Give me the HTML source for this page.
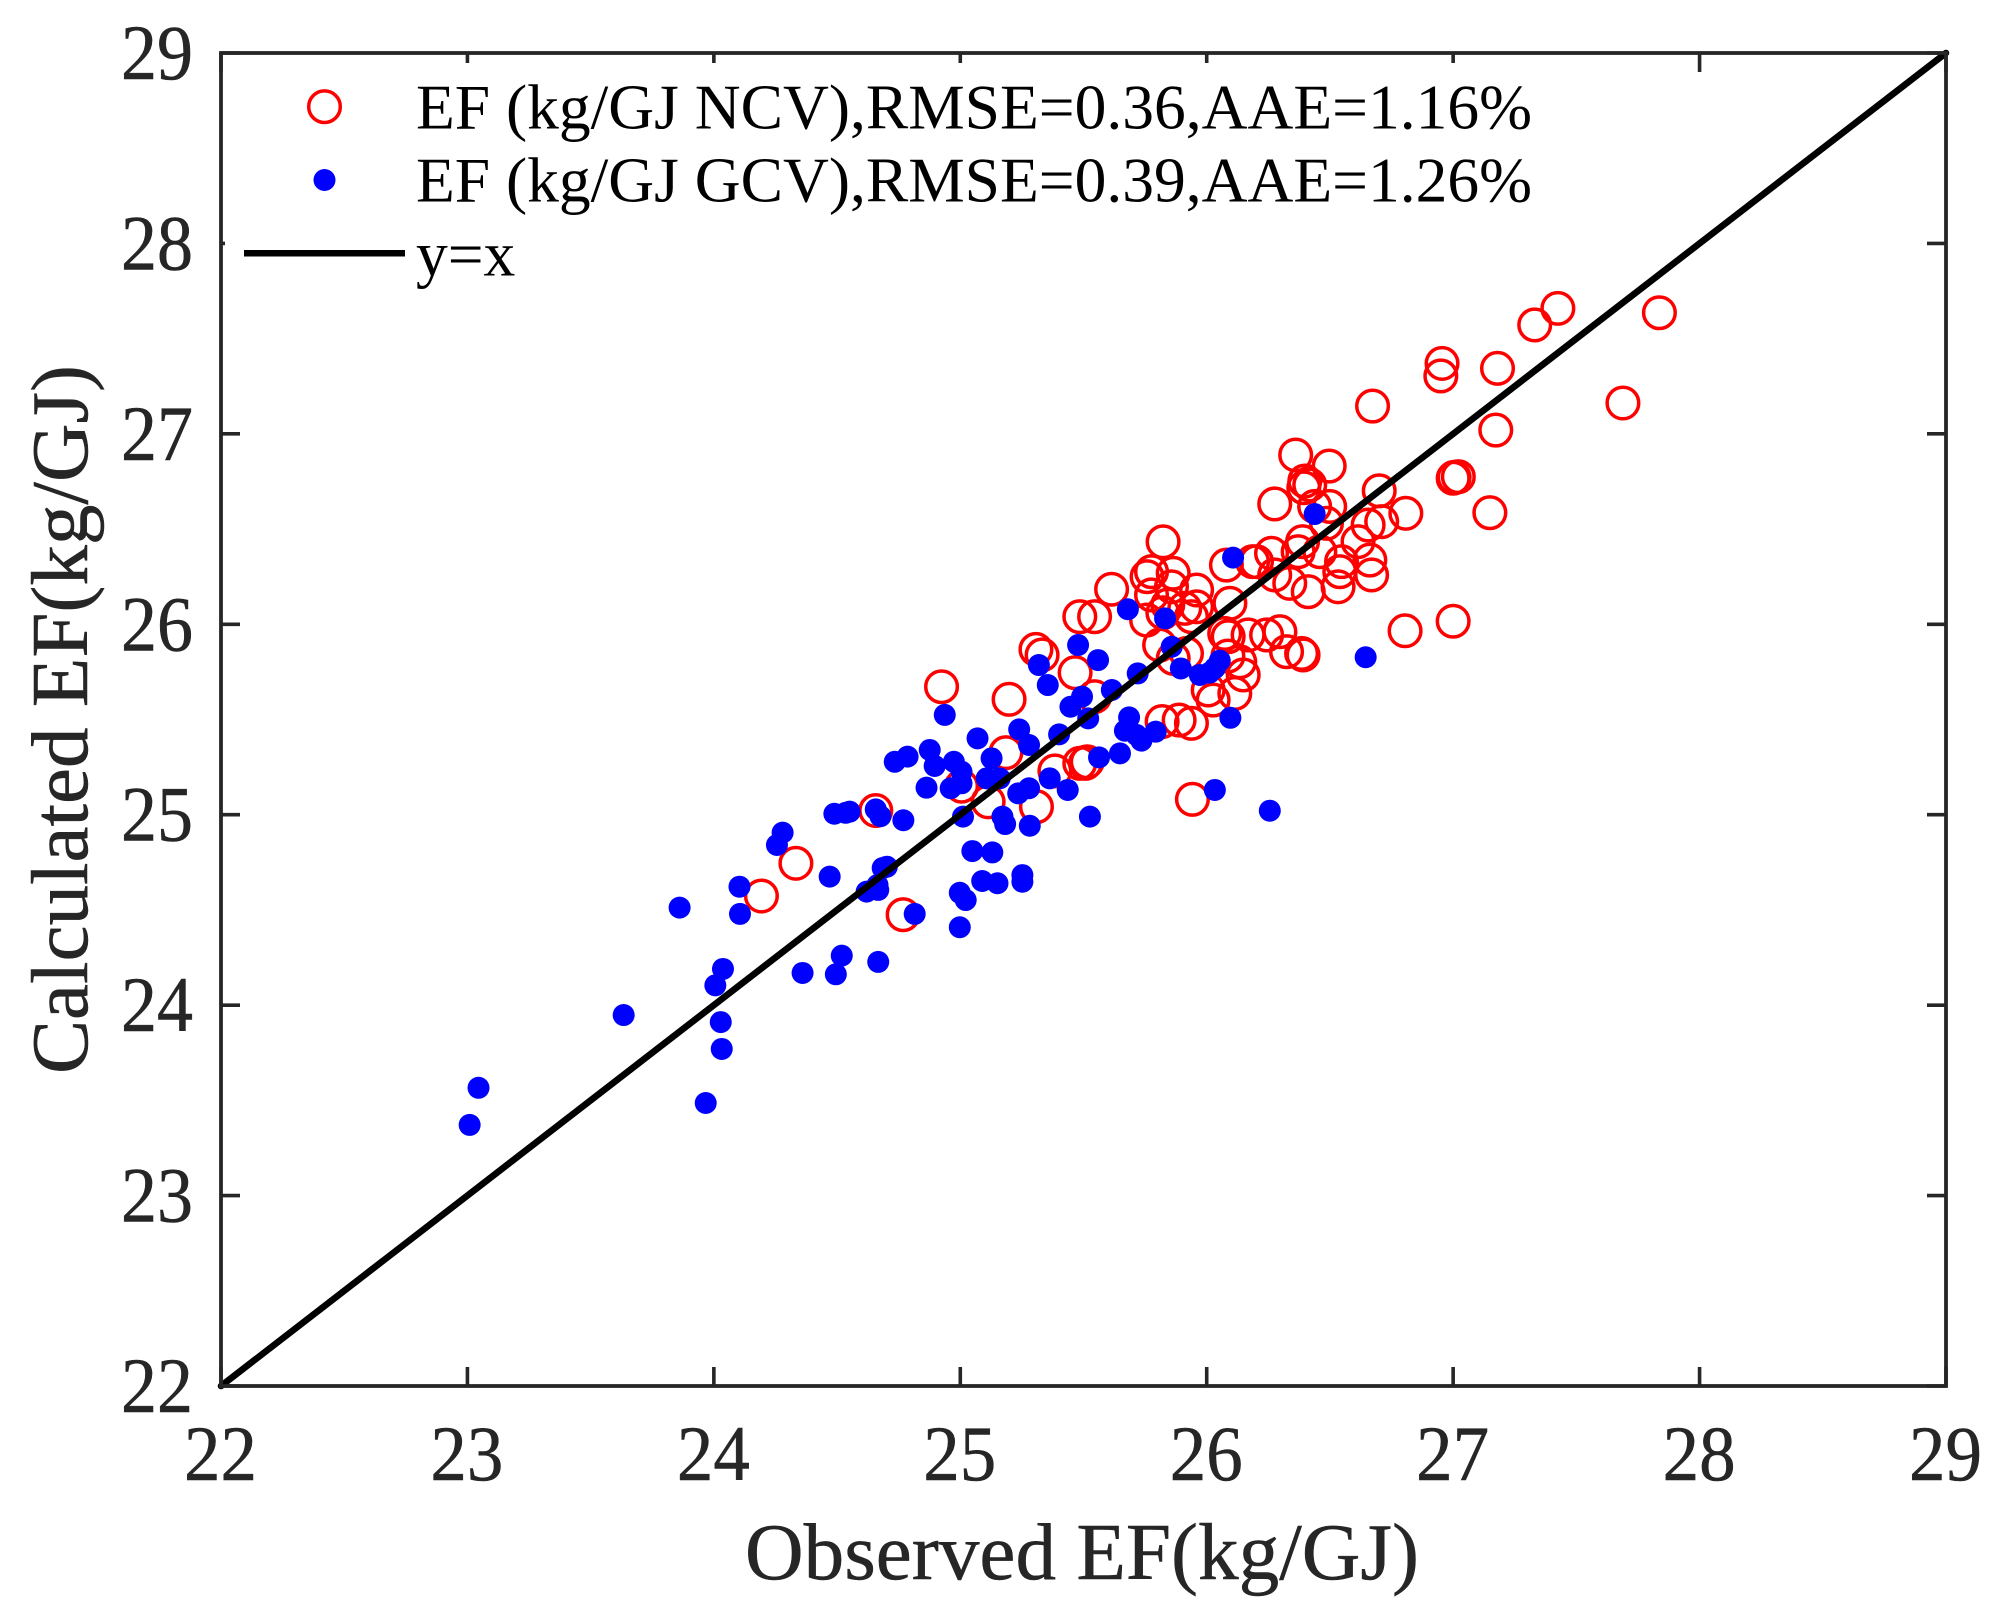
<!DOCTYPE html>
<html lang="en">
<head>
<meta charset="utf-8">
<title>Calculated vs observed EF</title>
<style>
html,body{margin:0;padding:0;background:#fff;}
svg{display:block;}
text{font-family:"Liberation Serif",serif;}
</style>
</head>
<body>
<svg id="chart" xmlns="http://www.w3.org/2000/svg" width="1998" height="1615" viewBox="0 0 1998 1615">
  <rect x="0" y="0" width="1998" height="1615" fill="#fff"/>
  <g id="ticks"></g>
  <g id="tick-labels"></g>
  <g id="series-ncv"></g>
  <g id="series-gcv"></g>
  <line id="identity-line" stroke="#000" stroke-width="6.6" stroke-linecap="round"/>
  <rect x="221" y="53" width="1725" height="1333" fill="none" stroke="#262626" stroke-width="3.8"/>
  <g>
    <rect x="225" y="63" width="1320" height="227" fill="#fff"/>
    <circle cx="324.5" cy="106.7" r="15.8" fill="none" stroke="#ff0000" stroke-width="3.5"/>
    <text x="416" y="128.3" font-size="63.5" fill="#000" textLength="1116" lengthAdjust="spacingAndGlyphs">EF (kg/GJ NCV),RMSE=0.36,AAE=1.16%</text>
    <circle cx="324.5" cy="180" r="11" fill="#0000ff"/>
    <text x="416" y="201.7" font-size="63.5" fill="#000" textLength="1116" lengthAdjust="spacingAndGlyphs">EF (kg/GJ GCV),RMSE=0.39,AAE=1.26%</text>
    <line x1="244" y1="253.3" x2="405" y2="253.3" stroke="#000" stroke-width="6.5"/>
    <text x="416" y="275.5" font-size="63.5" fill="#000">y=x</text>
  </g>
  <text x="745" y="1579" font-size="81" fill="#262626" stroke="#262626" stroke-width="0.5" textLength="674" lengthAdjust="spacingAndGlyphs">Observed EF(kg/GJ)</text>
  <text transform="translate(87,1074) rotate(-90)" x="0" y="0" font-size="81" fill="#262626" stroke="#262626" stroke-width="0.5" textLength="709" lengthAdjust="spacingAndGlyphs">Calculated EF(kg/GJ)</text>
</svg>
<script>
const xTickLabels = ["22","23","24","25","26","27","28","29"];
const yTickLabels = ["22","23","24","25","26","27","28","29"];
const ncvObserved = [24.193,24.333,24.768,24.657,24.924,25.198,25.185,25.384,25.485,25.515,25.508,25.113,25.309,25.005,25.545,25.942,25.485,25.545,25.307,25.332,25.466,25.819,25.888,25.938,25.614,25.823,25.776,25.758,25.864,25.857,25.776,25.959,25.959,25.842,25.911,25.938,25.822,25.756,26.094,26.080,26.202,26.263,26.276,25.809,25.864,25.918,26.087,26.073,26.086,26.168,26.243,26.297,26.324,26.134,26.148,26.114,26.006,26.026,26.385,26.391,26.361,26.497,26.398,26.418,26.394,26.499,26.438,26.700,26.808,26.710,26.655,26.614,26.486,26.389,26.371,26.186,26.459,26.547,26.533,26.540,26.662,26.669,26.276,26.337,26.412,27.004,27.000,27.021,27.149,27.173,26.805,27.000,27.425,27.331,27.837,26.955,26.950,27.180,26.673,27.689];
const ncvCalculated = [24.573,24.745,24.475,25.022,25.672,25.606,25.326,25.230,25.270,25.278,25.270,25.068,25.042,25.150,25.620,25.081,26.040,26.040,25.868,25.839,25.746,25.489,25.497,25.480,26.184,26.433,26.276,26.250,26.268,26.197,26.154,26.180,26.092,26.101,26.084,26.040,26.060,26.022,26.110,26.311,26.329,26.373,26.632,25.891,25.821,25.847,25.935,25.952,25.833,25.944,25.944,25.961,25.856,25.803,25.734,25.637,25.655,25.602,25.847,25.839,26.889,26.831,26.752,26.732,26.717,26.619,26.619,26.701,26.583,26.539,26.521,26.434,26.530,26.434,26.381,26.329,26.381,26.329,26.197,26.276,26.337,26.259,26.259,26.215,26.171,26.772,26.767,26.775,26.586,27.020,25.966,26.016,27.659,27.572,27.636,27.370,27.304,27.344,27.146,27.162];
const gcvObserved = [23.045,23.009,23.634,23.861,23.967,24.006,24.037,24.028,24.032,24.104,24.106,24.256,24.279,24.360,24.470,24.495,24.519,24.667,24.620,24.667,24.664,24.685,24.702,24.815,24.489,24.535,24.551,24.657,24.676,24.769,24.998,24.937,24.734,24.786,24.876,24.896,24.974,25.005,24.863,24.961,25.005,25.011,25.070,25.127,25.107,25.160,25.239,25.279,25.235,25.279,25.363,25.436,25.401,25.171,25.182,25.282,25.526,25.049,25.130,25.089,25.151,25.252,25.252,24.998,25.022,25.447,25.494,25.615,25.519,25.720,25.478,25.559,25.319,25.355,25.680,25.831,25.858,25.895,25.972,26.012,26.053,26.033,26.096,25.685,25.668,25.715,25.735,25.793,25.648,25.563,26.033,26.256,26.438,26.107,26.645];
const gcvCalculated = [23.566,23.371,23.948,24.512,23.486,24.104,24.190,23.911,23.770,24.622,24.479,24.841,24.906,24.169,24.675,24.162,24.260,24.227,24.596,24.605,24.631,24.720,24.727,24.479,25.005,25.010,25.016,25.028,24.992,24.971,24.409,25.524,25.278,25.305,25.340,25.256,25.278,25.226,25.142,25.139,25.165,24.990,25.401,25.296,25.191,25.191,25.448,25.366,25.112,25.139,25.191,25.130,25.422,24.990,24.951,24.942,24.990,24.809,24.802,24.652,24.640,24.683,24.648,24.590,24.552,25.567,25.620,25.655,25.506,25.742,25.891,25.812,25.786,25.681,26.079,26.031,25.882,25.768,25.734,25.746,25.809,25.770,25.509,25.511,25.441,25.419,25.389,25.436,25.322,25.301,25.130,25.021,26.579,26.350,25.827];

const SVG_NS = "http://www.w3.org/2000/svg";
const axisMin = 22, axisMax = 29;
const plotLeft = 221, plotRight = 1946, plotTop = 53, plotBottom = 1386;
function xScale(v){ return plotLeft + (v - axisMin) / (axisMax - axisMin) * (plotRight - plotLeft); }
function yScale(v){ return plotBottom - (v - axisMin) / (axisMax - axisMin) * (plotBottom - plotTop); }
function make(tag, parent){
  const el = document.createElementNS(SVG_NS, tag);
  parent.appendChild(el);
  return el;
}
function tickLine(parent, x1, y1, x2, y2){
  const el = make("line", parent);
  
  
  el.setAttribute("x1", x1);
  el.setAttribute("y1", y1);
  el.setAttribute("x2", x2);
  el.setAttribute("y2", y2);
  el.setAttribute("stroke", "#262626");
  el.setAttribute("stroke-width", "3.6");
}
const tickGroup = document.getElementById("ticks");
const labelGroup = document.getElementById("tick-labels");
xTickLabels.forEach(function(label){
  const v = parseFloat(label);
  const x = xScale(v);
  tickLine(tickGroup, x, plotBottom, x, plotBottom - 19);
  tickLine(tickGroup, x, plotTop, x, plotTop + 19);
  const t = make("text", labelGroup);
  
  
  t.setAttribute("x", x - 37);
  t.setAttribute("y", 1480);
  t.setAttribute("font-size", "78");
  t.setAttribute("fill", "#262626");
  t.setAttribute("stroke", "#262626");
  t.setAttribute("stroke-width", "0.5");
  t.setAttribute("textLength", "73");
  t.setAttribute("lengthAdjust", "spacingAndGlyphs");
  t.textContent = label;
});
yTickLabels.forEach(function(label){
  const v = parseFloat(label);
  const y = yScale(v);
  tickLine(tickGroup, plotLeft, y, plotLeft + 19, y);
  tickLine(tickGroup, plotRight, y, plotRight - 19, y);
  const t = make("text", labelGroup);
  
  
  t.setAttribute("x", 121);
  t.setAttribute("y", y + 26);
  t.setAttribute("font-size", "78");
  t.setAttribute("fill", "#262626");
  t.setAttribute("stroke", "#262626");
  t.setAttribute("stroke-width", "0.5");
  t.setAttribute("textLength", "72");
  t.setAttribute("lengthAdjust", "spacingAndGlyphs");
  t.textContent = label;
});
const ncvGroup = document.getElementById("series-ncv");
ncvObserved.forEach(function(obs, i){
  const c = make("circle", ncvGroup);
  
  
  c.setAttribute("cx", xScale(obs));
  c.setAttribute("cy", yScale(ncvCalculated[i]));
  c.setAttribute("r", "15.8");
  c.setAttribute("fill", "none");
  c.setAttribute("stroke", "#ff0000");
  c.setAttribute("stroke-width", "3.5");
});
const gcvGroup = document.getElementById("series-gcv");
gcvObserved.forEach(function(obs, i){
  const c = make("circle", gcvGroup);
  
  
  c.setAttribute("cx", xScale(obs));
  c.setAttribute("cy", yScale(gcvCalculated[i]));
  c.setAttribute("r", "11");
  c.setAttribute("fill", "#0000ff");
});
const identity = document.getElementById("identity-line");
identity.setAttribute("x1", xScale(axisMin));
identity.setAttribute("y1", yScale(axisMin));
identity.setAttribute("x2", xScale(axisMax));
identity.setAttribute("y2", yScale(axisMax));
</script>
</body>
</html>
